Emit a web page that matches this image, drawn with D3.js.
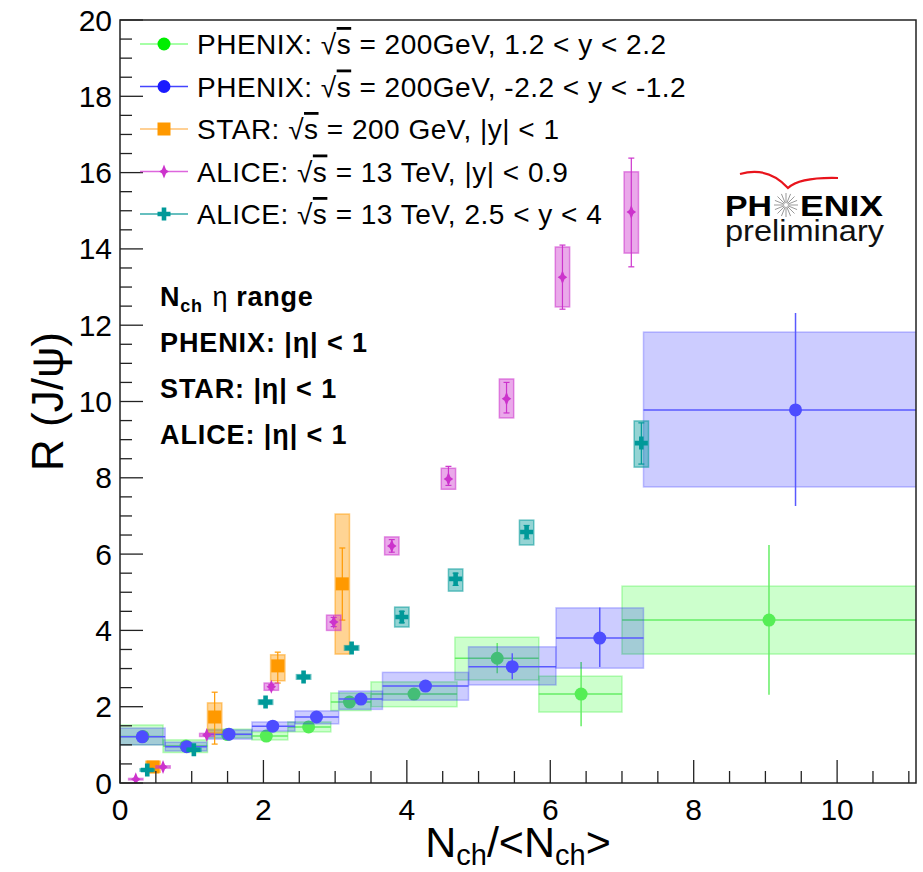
<!DOCTYPE html>
<html>
<head>
<meta charset="utf-8">
<script src="https://cdn.jsdelivr.net/npm/d3@7"></script>
<style>
  body { margin: 0; background: #fff; }
  svg { display: block; }
  text { font-family: "Liberation Sans", Arial, Helvetica, sans-serif; }
</style>
</head>
<body>
<div id="chart"></div>
<script>
// x, y, box x-lo, box x-hi, sys lo, sys hi, stat lo, stat hi
var phenixFwd = [
  [0.32, 1.22, 0.00, 0.60, 1.00, 1.52, 1.16, 1.28],
  [0.92, 0.97, 0.60, 1.22, 0.80, 1.13, 0.92, 1.02],
  [1.50, 1.27, 1.22, 1.84, 1.18, 1.41, 1.21, 1.33],
  [2.04, 1.23, 1.84, 2.34, 1.13, 1.34, 1.15, 1.31],
  [2.63, 1.47, 2.34, 2.94, 1.34, 1.60, 1.38, 1.56],
  [3.20, 2.12, 2.94, 3.50, 1.90, 2.36, 2.00, 2.24],
  [4.10, 2.33, 3.50, 4.70, 2.00, 2.65, 2.18, 2.48],
  [5.26, 3.27, 4.67, 5.84, 2.70, 3.82, 2.88, 3.67],
  [6.43, 2.33, 5.84, 7.00, 1.86, 2.80, 1.49, 3.17],
  [9.05, 4.27, 7.00, 11.6, 3.38, 5.16, 2.31, 6.24]
];
var phenixBwd = [
  [0.31, 1.21, 0.00, 0.63, 1.00, 1.44, 1.15, 1.27],
  [0.93, 0.95, 0.63, 1.21, 0.84, 1.07, 0.90, 1.00],
  [1.52, 1.28, 1.21, 1.84, 1.15, 1.39, 1.22, 1.34],
  [2.13, 1.49, 1.84, 2.44, 1.36, 1.60, 1.40, 1.58],
  [2.74, 1.73, 2.44, 3.05, 1.55, 1.89, 1.64, 1.82],
  [3.36, 2.20, 3.05, 3.66, 1.93, 2.41, 2.10, 2.30],
  [4.26, 2.54, 3.66, 4.86, 2.17, 2.90, 2.42, 2.66],
  [5.47, 3.05, 4.86, 6.08, 2.57, 3.57, 2.72, 3.40],
  [6.69, 3.80, 6.08, 7.30, 3.01, 4.59, 3.04, 4.60],
  [9.42, 9.78, 7.30, 11.6, 7.76, 11.82, 7.26, 12.32]
];
// x, y, sys lo, sys hi, stat lo, stat hi
var star = [
  [0.46, 0.42, 0.28, 0.57, 0.36, 0.48],
  [1.32, 1.73, 1.31, 2.10, 1.02, 2.38],
  [2.20, 3.07, 2.68, 3.36, 2.62, 3.43],
  [3.10, 5.22, 3.38, 7.05, 4.27, 6.16]
];
var aliceMid = [
  [0.22, 0.10, 0.08, 0.12, 0.09, 0.11],
  [0.60, 0.42, 0.39, 0.45, 0.40, 0.44],
  [1.21, 1.26, 1.22, 1.30, 1.23, 1.29],
  [2.11, 2.52, 2.43, 2.62, 2.46, 2.58],
  [2.98, 4.22, 4.00, 4.40, 4.10, 4.34],
  [3.79, 6.21, 5.98, 6.45, 6.05, 6.38],
  [4.58, 7.97, 7.70, 8.25, 7.80, 8.30],
  [5.39, 10.07, 9.57, 10.59, 9.70, 10.50],
  [6.17, 13.26, 12.48, 14.05, 12.42, 14.10],
  [7.13, 14.97, 13.89, 16.02, 13.53, 16.38]
];
var aliceFwd = [
  [0.38, 0.34, 0.31, 0.37, 0.32, 0.36],
  [1.03, 0.87, 0.83, 0.91, 0.84, 0.90],
  [2.03, 2.12, 2.06, 2.18, 2.08, 2.16],
  [2.56, 2.78, 2.72, 2.84, 2.74, 2.82],
  [3.23, 3.54, 3.48, 3.60, 3.50, 3.58],
  [3.93, 4.35, 4.09, 4.61, 4.20, 4.50],
  [4.68, 5.35, 5.03, 5.61, 5.18, 5.50],
  [5.67, 6.58, 6.24, 6.89, 6.40, 6.75],
  [7.27, 8.91, 8.28, 9.49, 8.36, 9.44]
];
var legendLabels = [
  ["PHENIX: ", "200GeV, 1.2 < y < 2.2"],
  ["PHENIX: ", "200GeV, -2.2 < y < -1.2"],
  ["STAR: ", "200 GeV, |y| < 1"],
  ["ALICE: ", "13 TeV, |y| < 0.9"],
  ["ALICE: ", "13 TeV, 2.5 < y < 4"]
];
var etaLabels = ["PHENIX: |\u03b7| < 1", "STAR: |\u03b7| < 1", "ALICE: |\u03b7| < 1"];
var xTicks = [0, 2, 4, 6, 8, 10];
var yTicks = [0, 2, 4, 6, 8, 10, 12, 14, 16, 18, 20];

var w = 923, h = 872;
var mLeft = 120, mRight = 916, mTop = 20, mBottom = 783;

var svg = d3.select('#chart').append('svg')
  .attr('width', w).attr('height', h);

var x = d3.scaleLinear().domain([0, 11.1]).range([mLeft, mRight]);
var y = d3.scaleLinear().domain([0, 20]).range([mBottom, mTop]);

svg.append('clipPath').attr('id', 'clip')
  .append('rect').attr('x', mLeft).attr('y', mTop)
  .attr('width', mRight - mLeft).attr('height', mBottom - mTop);

var plot = svg.append('g').attr('clip-path', 'url(#clip)');

var styles = {
  green:   { mark: '#55ee55', line: '#66ee66', fill: 'rgba(0,255,0,0.2)',    stroke: 'rgba(60,240,60,0.35)' },
  blue:    { mark: '#4d4dff', line: '#5959ff', fill: 'rgba(0,0,255,0.2)',    stroke: 'rgba(60,60,255,0.3)' },
  orange:  { mark: '#ff9900', line: '#ff9900', fill: 'rgba(255,153,0,0.42)', stroke: 'rgba(255,153,0,0.5)' },
  magenta: { mark: '#cc33cc', line: '#cc33cc', fill: 'rgba(204,51,204,0.42)', stroke: 'rgba(204,51,204,0.55)' },
  teal:    { mark: '#009999', line: '#009999', fill: 'rgba(0,153,153,0.42)', stroke: 'rgba(0,153,153,0.55)' }
};

var diamond = 'M0,-7L2,-2L4.8,0L2,2L0,7L-2,2L-4.8,0L-2,-2Z';
var cross = 'M-2.3,-6.5H2.3V-2.3H6.5V2.3H2.3V6.5H-2.3V2.3H-6.5V-2.3H-2.3Z';

function marker(g, kind, cx, cy, col) {
  if (kind === 'circle') {
    g.append('circle').attr('cx', cx).attr('cy', cy).attr('r', 6.5).attr('fill', col);
  } else if (kind === 'square') {
    g.append('rect').attr('x', cx - 6.5).attr('y', cy - 6.5)
      .attr('width', 13).attr('height', 13).attr('fill', col);
  } else {
    g.append('path').attr('d', kind === 'diamond' ? diamond : cross)
      .attr('transform', `translate(${cx},${cy})`).attr('fill', col);
  }
}

function drawPhenix(data, st) {
  var g = plot.append('g');
  data.forEach(function(d) {
    g.append('rect')
      .attr('x', x(d[2])).attr('y', y(d[5]))
      .attr('width', x(d[3]) - x(d[2])).attr('height', y(d[4]) - y(d[5]))
      .attr('fill', st.fill).attr('stroke', st.stroke).attr('stroke-width', 1.5);
    g.append('line')
      .attr('x1', x(d[2])).attr('x2', x(d[3])).attr('y1', y(d[1])).attr('y2', y(d[1]))
      .attr('stroke', st.line).attr('stroke-width', 1.5);
    g.append('line')
      .attr('x1', x(d[0])).attr('x2', x(d[0])).attr('y1', y(d[6])).attr('y2', y(d[7]))
      .attr('stroke', st.line).attr('stroke-width', 1.5);
    marker(g, 'circle', x(d[0]), y(d[1]), st.mark);
  });
}

function drawSmall(data, st, kind) {
  var g = plot.append('g');
  var bw = 0.1;
  data.forEach(function(d) {
    g.append('rect')
      .attr('x', x(d[0] - bw)).attr('y', y(d[3]))
      .attr('width', x(d[0] + bw) - x(d[0] - bw)).attr('height', y(d[2]) - y(d[3]))
      .attr('fill', st.fill).attr('stroke', st.stroke).attr('stroke-width', 1.5);
    g.append('line')
      .attr('x1', x(d[0])).attr('x2', x(d[0])).attr('y1', y(d[4])).attr('y2', y(d[5]))
      .attr('stroke', st.line).attr('stroke-width', 1.2);
    [d[4], d[5]].forEach(function(v) {
      g.append('line')
        .attr('x1', x(d[0]) - 3).attr('x2', x(d[0]) + 3).attr('y1', y(v)).attr('y2', y(v))
        .attr('stroke', st.line).attr('stroke-width', 1.2);
    });
    marker(g, kind, x(d[0]), y(d[1]), st.mark);
  });
}

drawPhenix(phenixFwd, styles.green);
drawPhenix(phenixBwd, styles.blue);
drawSmall(star, styles.orange, 'square');
drawSmall(aliceMid, styles.magenta, 'diamond');
drawSmall(aliceFwd, styles.teal, 'cross');

// frame
svg.append('rect')
  .attr('x', mLeft).attr('y', mTop).attr('width', mRight - mLeft).attr('height', mBottom - mTop)
  .attr('fill', 'none').attr('stroke', '#222').attr('stroke-width', 1.5);

// ticks and labels
var gx = svg.append('g');
d3.range(0, 11.01, 0.5).forEach(function(v) {
  var major = Math.abs(v % 2) < 1e-6;
  gx.append('line').attr('x1', x(v)).attr('x2', x(v))
    .attr('y1', mBottom).attr('y2', mBottom - (major ? 23 : 12))
    .attr('stroke', '#222').attr('stroke-width', 1.3);
});
xTicks.forEach(function(v) {
  gx.append('text').attr('x', x(v)).attr('y', mBottom + 37)
    .attr('text-anchor', 'middle').attr('font-size', 30).text(v);
});
var gy = svg.append('g');
d3.range(0, 20.01, 0.5).forEach(function(v) {
  var major = Math.abs(v % 2) < 1e-6;
  gy.append('line').attr('x1', mLeft).attr('x2', mLeft + (major ? 23 : 12))
    .attr('y1', y(v)).attr('y2', y(v))
    .attr('stroke', '#222').attr('stroke-width', 1.3);
});
yTicks.forEach(function(v) {
  gy.append('text').attr('x', mLeft - 8).attr('y', y(v) + 10.5)
    .attr('text-anchor', 'end').attr('font-size', 30).text(v);
});

// axis titles
svg.append('text')
  .attr('transform', `translate(63,${(mTop + mBottom) / 2}) rotate(-90)`)
  .attr('text-anchor', 'middle').attr('font-size', 44)
  .text('R (J/\u03c8)');

var xt = svg.append('text').attr('x', (mLeft + mRight) / 2).attr('y', 857)
  .attr('text-anchor', 'middle').attr('font-size', 43);
xt.append('tspan').text('N');
xt.append('tspan').attr('font-size', 29).attr('dy', 8).text('ch');
xt.append('tspan').attr('dy', -8).text('/<N');
xt.append('tspan').attr('font-size', 29).attr('dy', 8).text('ch');
xt.append('tspan').attr('dy', -8).text('>');

// legend
var legendKinds = ['circle', 'circle', 'square', 'diamond', 'cross'];
var legendMarks = ['#00ee00', '#1a1aff', '#ff9900', '#cc33cc', '#009999'];
var legendLines = ['#88ff88', '#4444ff', '#ffc070', '#dd66dd', '#33aaaa'];
var lg = svg.append('g');
legendLabels.forEach(function(lab, i) {
  var ly = 44 + i * 42.5;
  lg.append('line').attr('x1', 140).attr('x2', 188).attr('y1', ly).attr('y2', ly)
    .attr('stroke', legendLines[i]).attr('stroke-width', 1.5);
  marker(lg, legendKinds[i], 164, ly, legendMarks[i]);
  var t = lg.append('text').attr('x', 197).attr('y', ly + 10)
    .attr('font-size', 28).attr('letter-spacing', 0.5);
  t.append('tspan').text(lab[0] + '\u221a');
  t.append('tspan').attr('text-decoration', 'overline').text('s');
  t.append('tspan').text(' = ' + lab[1]);
});

// eta range notes
var nt = svg.append('text').attr('x', 160).attr('y', 306)
  .attr('font-size', 27).attr('font-weight', 'bold').attr('letter-spacing', 0.7);
nt.append('tspan').text('N');
nt.append('tspan').attr('font-size', 18).attr('dy', 6).text('ch');
nt.append('tspan').attr('dy', -6).attr('dx', 10).attr('font-weight', 'normal').text('\u03b7');
nt.append('tspan').attr('dx', 8).text('range');
etaLabels.forEach(function(s, i) {
  svg.append('text').attr('x', 160).attr('y', 352 + i * 46)
    .attr('font-size', 27).attr('font-weight', 'bold').attr('letter-spacing', 0.9).text(s);
});

// PHENIX preliminary logo
var logo = svg.append('g');
logo.append('path')
  .attr('d', 'M740,174 Q768,166 788,188 Q800,177 838,178')
  .attr('fill', 'none').attr('stroke', '#e8141c').attr('stroke-width', 2.2);
logo.append('text').attr('x', 725).attr('y', 216).attr('font-size', 29)
  .attr('font-weight', 'bold').attr('textLength', 47).attr('lengthAdjust', 'spacingAndGlyphs')
  .text('PH');
logo.append('text').attr('x', 800).attr('y', 216).attr('font-size', 29)
  .attr('font-weight', 'bold').attr('textLength', 83).attr('lengthAdjust', 'spacingAndGlyphs')
  .text('ENIX');
d3.range(0, 16).forEach(function(k) {
  var a = k * Math.PI / 8;
  logo.append('line')
    .attr('x1', 786 + 2 * Math.cos(a)).attr('y1', 205 + 2 * Math.sin(a))
    .attr('x2', 786 + 12 * Math.cos(a)).attr('y2', 205 + 12 * Math.sin(a))
    .attr('stroke', '#999').attr('stroke-width', 1);
});
logo.append('text').attr('x', 725).attr('y', 241).attr('font-size', 30)
  .attr('textLength', 159).attr('lengthAdjust', 'spacingAndGlyphs')
  .attr('fill', '#111').text('preliminary');
</script>
</body>
</html>
